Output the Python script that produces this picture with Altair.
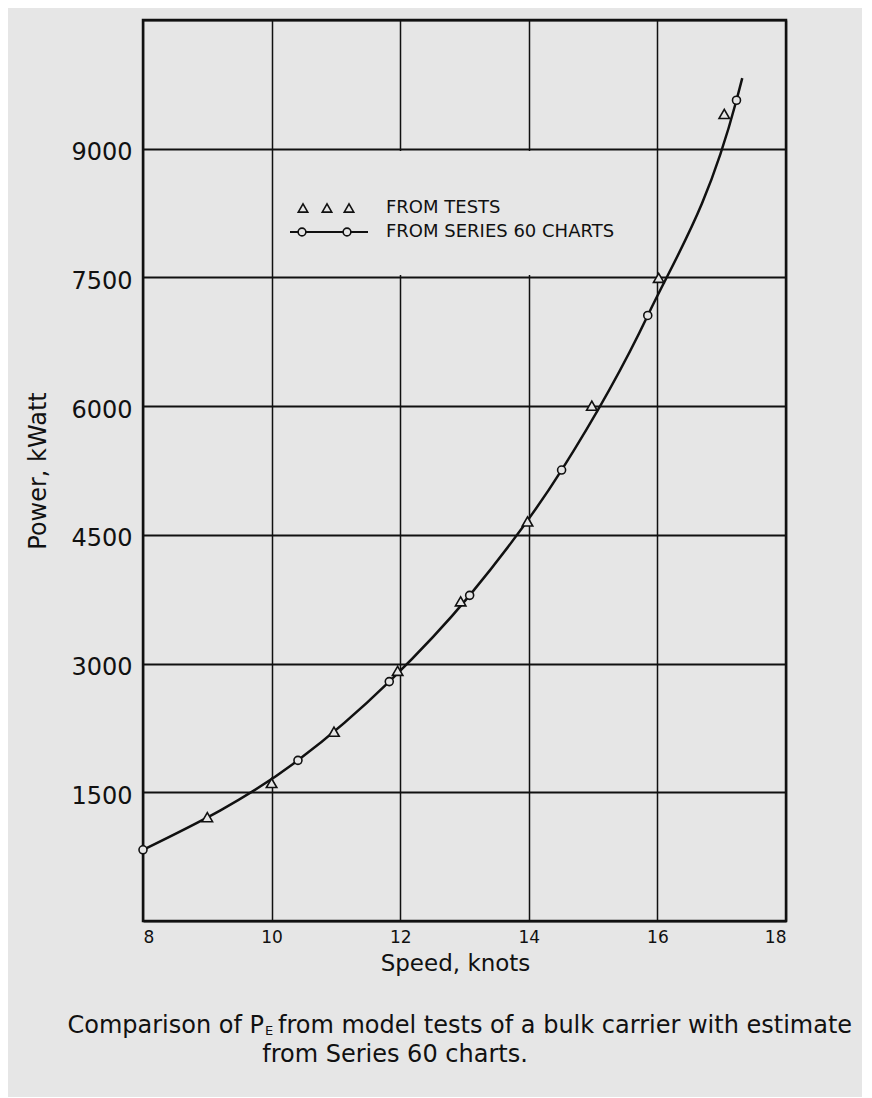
import altair as alt
import pandas as pd

# ---------------- data ----------------
# Model tests (triangles)
test_speed = [9.0, 10.0, 10.97, 11.96, 12.94, 13.98, 14.98, 16.02, 17.04]
test_power = [1210, 1608, 2206, 2915, 3725, 4656, 6005, 7495, 9405]

# Series 60 chart estimates (circles)
s60_speed = [8.0, 10.41, 11.83, 13.08, 14.51, 15.85, 17.23]
s60_power = [830, 1872, 2790, 3795, 5255, 7057, 9565]

# Faired curve: through the Series 60 points, plus the tip of the drawn curve
curve_speed = s60_speed + [17.32]
curve_power = s60_power + [9823]

x_ticks = [8, 10, 12, 14, 16, 18]
y_ticks = [0, 1500, 3000, 4500, 6000, 7500, 9000, 10500]

legend_labels = ["FROM TESTS", "FROM SERIES 60 CHARTS"]
caption_a = "Comparison of P"
caption_sub = "E"
caption_b = "from model tests of a bulk carrier with estimate"
caption_c = "from Series 60 charts."

# ---------------- styling ----------------
BG = "#e6e6e6"
INK = "#111111"
FONT = "DejaVu Sans"
W, H = 643, 901

tests_df = pd.DataFrame({"speed": test_speed, "power": test_power})
s60_df = pd.DataFrame({"speed": s60_speed, "power": s60_power})
curve_df = pd.DataFrame({"speed": curve_speed, "power": curve_power})
one = pd.DataFrame({"k": [0]})

x_axis = alt.Axis(
    values=x_ticks, grid=True, gridColor=INK, gridWidth=1.5, ticks=False,
    domain=False, labelFontSize=17, labelPadding=8, labelColor=INK,
    labelFont=FONT, title="Speed, knots", titleFont=FONT, titleFontSize=23,
    titleFontWeight="normal", titleColor=INK, titleX=312, titleY=42,
    titleBaseline="middle", titleAlign="center",
)
y_axis = alt.Axis(
    values=y_ticks, grid=True, gridColor=INK, gridWidth=2, ticks=False,
    domain=False, labelFontSize=24, labelPadding=11, labelColor=INK,
    labelFont=FONT, labelOffset=4,
    labelExpr="datum.value > 0 && datum.value < 10500 ? datum.value : ''",
    title="Power, kWatt", titleFont=FONT, titleFontSize=24,
    titleFontWeight="normal", titleColor=INK, titleX=-93, titleY=H / 2,
    titleBaseline="bottom", titleAlign="center", titleAngle=270,
)

xs = alt.Scale(domain=[8, 18], nice=False, zero=False)
ys = alt.Scale(domain=[0, 10500], nice=False, zero=False)


def X():
    return alt.X("speed:Q", scale=xs, axis=x_axis)


def Y():
    return alt.Y("power:Q", scale=ys, axis=y_axis)


# mask hiding the two vertical grid lines behind the key
mask = alt.Chart(one).mark_rect(fill=BG, stroke=None).encode(
    x=alt.value(249), x2=alt.value(394), y=alt.value(131), y2=alt.value(255)
)

curve = alt.Chart(curve_df).mark_line(
    color=INK, strokeWidth=2.5, interpolate="monotone"
).encode(x=X(), y=Y())

circles = alt.Chart(s60_df).mark_point(
    shape="circle", filled=True, fill=BG, stroke=INK, strokeWidth=1.6,
    size=64, opacity=1
).encode(x=X(), y=Y())

triangles = alt.Chart(tests_df).mark_point(
    shape="triangle-up", filled=True, fill=BG, stroke=INK, strokeWidth=1.6,
    size=110, opacity=1
).encode(x=X(), y=Y())

# ---------------- key ----------------
key_layers = []
for px in (160, 184, 206):
    key_layers.append(
        alt.Chart(one).mark_point(
            shape="triangle-up", filled=True, fill=BG, stroke=INK,
            strokeWidth=1.6, size=90, opacity=1
        ).encode(x=alt.value(px), y=alt.value(188))
    )
key_layers.append(
    alt.Chart(one).mark_rule(color=INK, strokeWidth=2).encode(
        x=alt.value(147), x2=alt.value(225), y=alt.value(212)
    )
)
for px in (159, 204):
    key_layers.append(
        alt.Chart(one).mark_point(
            shape="circle", filled=True, fill=BG, stroke=INK,
            strokeWidth=1.6, size=60, opacity=1
        ).encode(x=alt.value(px), y=alt.value(212))
    )
for lbl, py in zip(legend_labels, (188, 212)):
    key_layers.append(
        alt.Chart(one).mark_text(
            text=lbl, font=FONT, fontSize=18, color=INK, align="left",
            baseline="middle"
        ).encode(x=alt.value(243), y=alt.value(py))
    )

# ---------------- caption ----------------
cap = [
    alt.Chart(one).mark_text(text=caption_a, font=FONT, fontSize=24, color=INK,
                             align="right", baseline="alphabetic"
                             ).encode(x=alt.value(121), y=alt.value(1013)),
    alt.Chart(one).mark_text(text=caption_sub, font=FONT, fontSize=13, color=INK,
                             align="left", baseline="alphabetic"
                             ).encode(x=alt.value(122), y=alt.value(1015)),
    alt.Chart(one).mark_text(text=caption_b, font=FONT, fontSize=24, color=INK,
                             align="left", baseline="alphabetic"
                             ).encode(x=alt.value(135), y=alt.value(1013)),
    alt.Chart(one).mark_text(text=caption_c, font=FONT, fontSize=24, color=INK,
                             align="center", baseline="alphabetic"
                             ).encode(x=alt.value(252), y=alt.value(1042)),
]

chart = alt.layer(mask, curve, circles, triangles, *key_layers, *cap).properties(
    width=W, height=H,
    autosize=alt.AutoSizeParams(type="none"),
    padding={"left": 135, "top": 12, "right": 76, "bottom": 176},
    background=BG,
).configure_view(stroke=INK, strokeWidth=2.5)

chart.save("out.html", embed_options={"renderer": "svg", "actions": False})
